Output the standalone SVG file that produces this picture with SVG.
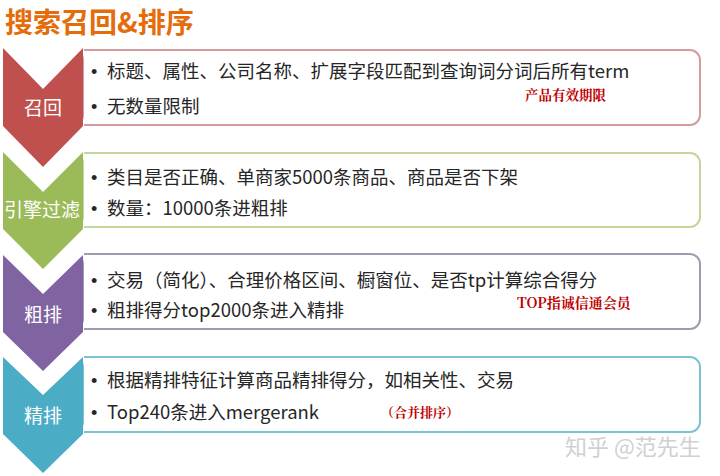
<svg xmlns="http://www.w3.org/2000/svg" width="720" height="476" viewBox="0 0 720 476">
<style>
.title{font-family:"Noto Sans CJK SC","Microsoft YaHei",sans-serif;font-size:28px;font-weight:bold;fill:#E46C0A}
.lbl{font-family:"Noto Sans CJK SC",sans-serif;font-size:19px;fill:#ffffff;text-anchor:middle}
.t{font-family:"Noto Sans CJK SC",sans-serif;font-size:18.5px;fill:#262626}
.b{font-family:"Liberation Sans",sans-serif;font-size:18px;fill:#262626}
.note{font-family:"Noto Serif CJK SC","Liberation Serif","Noto Sans CJK SC",serif;font-size:14px;font-weight:bold;fill:#C00000}
.wm{font-family:"Noto Sans CJK SC",sans-serif;font-size:22px;fill:#d0d0d0}
.box{fill:#ffffff;stroke-width:2}
</style>
<rect width="720" height="476" fill="#ffffff"/>
<text class="title" x="5" y="33">搜索召回&amp;排序</text>
<g id="connectors"></g>
<g id="stage1">
<rect class="box" x="84" y="50" width="616" height="75" rx="10" stroke="#D49BA0"/>
<rect x="84" y="51" width="12" height="73" fill="#ffffff"/>
<line x1="84" y1="50" x2="96" y2="50" stroke="#D49BA0" stroke-width="2"/>
<line x1="84" y1="125" x2="96" y2="125" stroke="#D49BA0" stroke-width="2"/>
<path d="M3,48 L43,89 L83,48 L83,126 L43,167 L3,126 Z" fill="#C0504D"/>
<text class="lbl" x="43" y="115">召回</text>
<text class="b" x="91" y="78">•</text>
<text class="t" x="107" y="78">标题、属性、公司名称、扩展字段匹配到查询词分词后所有term</text>
<text class="b" x="91" y="113">•</text>
<text class="t" x="107" y="113">无数量限制</text>
<text class="note" x="525" y="99.5" style="font-size:13.5px">产品有效期限</text>
</g>
<g id="stage2">
<rect class="box" x="84" y="153" width="616" height="74" rx="10" stroke="#C3D69B"/>
<rect x="84" y="154" width="12" height="72" fill="#ffffff"/>
<line x1="84" y1="153" x2="96" y2="153" stroke="#C3D69B" stroke-width="2"/>
<line x1="84" y1="227" x2="96" y2="227" stroke="#C3D69B" stroke-width="2"/>
<path d="M3,152 L43,192 L83,152 L83,229 L43,269 L3,229 Z" fill="#9BBB59"/>
<text class="lbl" x="42" y="217">引擎过滤</text>
<text class="b" x="91" y="184">•</text>
<text class="t" x="107" y="184">类目是否正确、单商家5000条商品、商品是否下架</text>
<text class="b" x="91" y="215">•</text>
<text class="t" x="107" y="215">数量：10000条进粗排</text>
</g>
<g id="stage3">
<rect class="box" x="84" y="254" width="616" height="75" rx="10" stroke="#A09CB0"/>
<rect x="84" y="255" width="12" height="73" fill="#ffffff"/>
<line x1="84" y1="254" x2="96" y2="254" stroke="#A09CB0" stroke-width="2"/>
<line x1="84" y1="329" x2="96" y2="329" stroke="#A09CB0" stroke-width="2"/>
<path d="M3,255 L43,294 L83,255 L83,332 L43,371 L3,332 Z" fill="#8064A2"/>
<text class="lbl" x="43" y="322">粗排</text>
<text class="b" x="91" y="287">•</text>
<text class="t" x="107" y="287">交易（简化）、合理价格区间、橱窗位、是否tp计算综合得分</text>
<text class="b" x="91" y="317">•</text>
<text class="t" x="107" y="317">粗排得分top2000条进入精排</text>
<text class="note" x="517" y="308">TOP指诚信通会员</text>
</g>
<g id="stage4">
<rect class="box" x="84" y="357" width="616" height="75" rx="10" stroke="#7CC3D2"/>
<rect x="84" y="358" width="12" height="73" fill="#ffffff"/>
<line x1="84" y1="357" x2="96" y2="357" stroke="#7CC3D2" stroke-width="2"/>
<line x1="84" y1="432" x2="96" y2="432" stroke="#7CC3D2" stroke-width="2"/>
<path d="M3,357 L43,395 L83,357 L83,434 L43,473 L3,434 Z" fill="#4BACC6"/>
<text class="lbl" x="43" y="423">精排</text>
<text class="b" x="91" y="387">•</text>
<text class="t" x="107" y="387">根据精排特征计算商品精排得分，如相关性、交易</text>
<text class="b" x="91" y="419">•</text>
<text class="t" x="107" y="419">Top240条进入mergerank</text>
<text class="note" x="381" y="417" style="font-size:13px">（合并排序）</text>
</g>
<text class="wm" x="565" y="455">知乎 @范先生</text>
</svg>
